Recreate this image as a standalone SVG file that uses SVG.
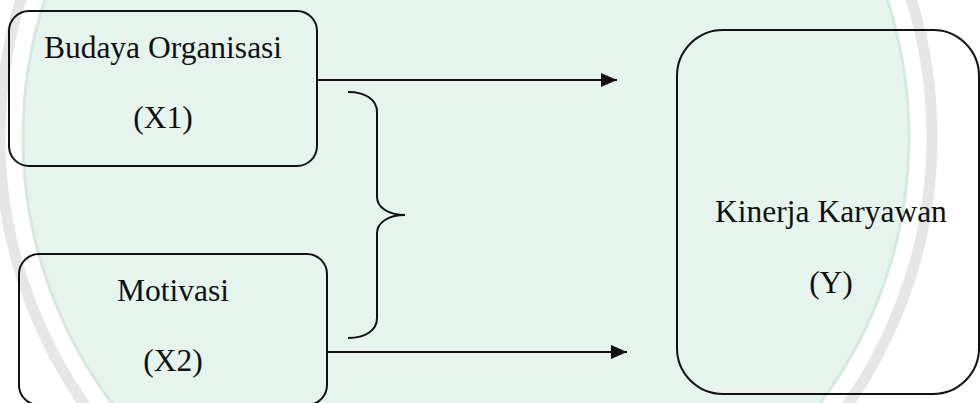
<svg xmlns="http://www.w3.org/2000/svg" width="980" height="403" viewBox="0 0 980 403">
  <style>
    .box { fill: none; stroke: #111; stroke-width: 2; }
    .lbl { font-family: "Liberation Serif", "Times New Roman", serif; font-size: 31.5px; fill: #111; text-anchor: middle; }
    .conn { fill: none; stroke: #111; stroke-width: 2; }
  </style>
  <defs>
    <marker id="arrow" markerWidth="16" markerHeight="14" refX="16" refY="7" orient="auto" markerUnits="userSpaceOnUse">
      <path d="M0,0 L16,7 L0,14 Z" fill="#111"/>
    </marker>
  </defs>
  <rect width="980" height="403" fill="#ffffff"/>
  <g id="watermark">
    <circle cx="466" cy="137" r="466" fill="none" stroke="#e6e6e6" stroke-width="11"/>
    <circle cx="466" cy="137" r="443" fill="#e5f4ec" stroke="#d6e9df" stroke-width="3"/>
  </g>
  <g id="node-x1">
    <rect class="box" x="9" y="11" width="308" height="155" rx="20" ry="20"/>
    <text class="lbl" x="163" y="58">Budaya Organisasi</text>
    <text class="lbl" x="163" y="128">(X1)</text>
  </g>
  <g id="node-x2">
    <rect class="box" x="19" y="254" width="308" height="151" rx="20" ry="20"/>
    <text class="lbl" x="173" y="301">Motivasi</text>
    <text class="lbl" x="173" y="371">(X2)</text>
  </g>
  <g id="node-y">
    <rect class="box" x="677" y="30" width="302" height="364" rx="46" ry="46"/>
    <text class="lbl" x="831" y="222">Kinerja Karyawan</text>
    <text class="lbl" x="831" y="293">(Y)</text>
  </g>
  <g id="connectors">
    <line class="conn" x1="317" y1="80" x2="617" y2="80" marker-end="url(#arrow)"/>
    <line class="conn" x1="327" y1="352" x2="627" y2="352" marker-end="url(#arrow)"/>
    <path class="conn" d="M348,92 C366,92 377,100 377,112 L377,197 C377,207 388,215 405,215 C388,215 377,223 377,233 L377,318 C377,330 366,338 348,338"/>
  </g>
</svg>
